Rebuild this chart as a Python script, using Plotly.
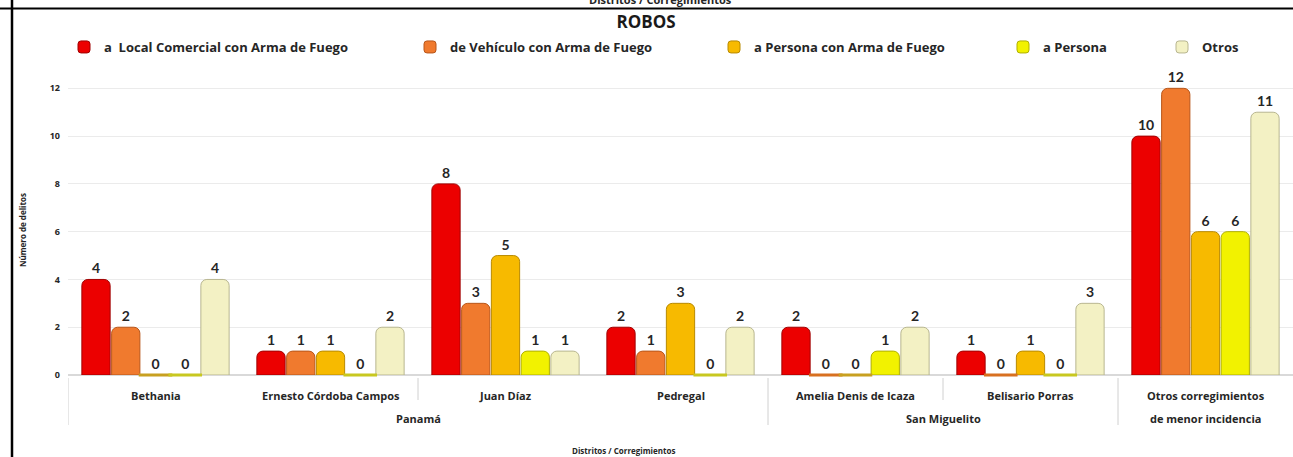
import plotly.graph_objects as go

# ---------------- data ----------------
categories = ["Bethania", "Ernesto Córdoba Campos", "Juan Díaz", "Pedregal",
              "Amelia Denis de Icaza", "Belisario Porras", "Otros corregimientos"]
districts = ["Panamá", "San Miguelito"]
series_names = ["a  Local Comercial con Arma de Fuego", "de Vehículo con Arma de Fuego",
                "a Persona con Arma de Fuego", "a Persona", "Otros"]
local_comercial = [4, 1, 8, 2, 2, 1, 10]
vehiculo = [2, 1, 3, 1, 0, 0, 12]
persona_arma = [0, 1, 5, 3, 0, 1, 6]
persona = [0, 0, 1, 0, 1, 0, 6]
otros = [4, 2, 1, 2, 2, 3, 11]
y_ticks = [0, 2, 4, 6, 8, 10, 12]

series_values = [local_comercial, vehiculo, persona_arma, persona, otros]
colors = ["#EC0000", "#F07A2E", "#F7BA00", "#F2F200", "#F3F1C4"]
edge_colors = ["#A00000", "#B8561A", "#B88A00", "#B0B000", "#B8B690"]
zero_colors = ["#C83000", "#D87020", "#C8A020", "#C8C820", "#C8C880"]

W, H = 1293, 457
ML, MR, MT, MB = 68, 0, 74, 82
PH = H - MT - MB
PW = W - ML - MR
FONT = "Open Sans"
TXT = "#262626"


def py(pixel_y):
    return (H - MB - pixel_y) / PH


def px(pixel_x):
    return (pixel_x - ML) / PW


fig = go.Figure()
legend_ids = ["legend", "legend2", "legend3", "legend4", "legend5"]
for name, vals, c, ec, lid in zip(series_names, series_values, colors, edge_colors, legend_ids):
    fig.add_trace(go.Bar(
        x=categories, y=vals, name=name, legend=lid,
        marker=dict(color=c, line=dict(color=ec, width=1), cornerradius=6),
        text=[str(v) for v in vals], textposition="outside",
        textfont=dict(family="Lato", size=14, color=TXT, weight="bold"),
        cliponaxis=False, offsetgroup=name,
    ))

# flat discs for zero values
for name, vals, zc in zip(series_names, series_values, zero_colors):
    fig.add_trace(go.Scatter(
        x=categories, y=[0 if v == 0 else None for v in vals],
        mode="markers", showlegend=False, hoverinfo="skip",
        orientation="v", offsetgroup=name,
        marker=dict(symbol="line-ew", size=24, line=dict(color=zc, width=3)),
        cliponaxis=False,
    ))

fig.update_layout(
    width=W, height=H,
    margin=dict(l=ML, r=MR, t=MT, b=MB),
    paper_bgcolor="white", plot_bgcolor="white",
    barmode="group", bargap=0.15, bargroupgap=0.05,
    scattermode="group", scattergap=0.15,
    font=dict(family=FONT, color=TXT),
    title=dict(text="<b>ROBOS</b>", x=646 / W, xref="container", xanchor="center",
               y=1 - 22 / H, yref="container", yanchor="middle",
               font=dict(family=FONT, size=17, color="#1a1a1a")),
    xaxis=dict(showticklabels=False, showgrid=False, zeroline=False, showline=False,
               ticks="", range=[-0.5, 6.5]),
    yaxis=dict(range=[0, 12.6], tickvals=y_ticks, showgrid=True, gridcolor="#ebebeb",
               gridwidth=1, zeroline=True, zerolinecolor="#d9d9d9", showline=False,
               ticks="", ticklabelstandoff=7,
               tickfont=dict(family=FONT, size=9, color=TXT, weight="bold")),
)

# legends (one per series to reproduce the spacing)
legend_text_x = [104, 450, 754, 1043, 1202]
for lid, tx in zip(legend_ids, legend_text_x):
    fig.update_layout({lid: dict(
        x=(tx - 40) / W, xref="container", xanchor="left",
        y=1 - 47 / H, yref="container", yanchor="middle",
        orientation="h", itemwidth=30, bgcolor="rgba(0,0,0,0)",
        font=dict(family=FONT, size=13, color=TXT, weight="bold"),
        itemclick=False, itemdoubleclick=False,
    )})

annotations = []
cat_labels = categories[:-1] + ["Otros corregimientos"]
for i, lab in enumerate(cat_labels):
    annotations.append(dict(x=i, y=py(395), xref="x", yref="paper", text=f"<b>{lab}</b>",
                            showarrow=False, yanchor="middle",
                            font=dict(family=FONT, size=11, color=TXT)))
annotations.append(dict(x=6, y=py(418), xref="x", yref="paper", text="<b>de menor incidencia</b>",
                        showarrow=False, yanchor="middle",
                        font=dict(family=FONT, size=11, color=TXT)))
for lab, xc in zip(districts, [1.5, 4.5]):
    annotations.append(dict(x=xc, y=py(418), xref="x", yref="paper", text=f"<b>{lab}</b>",
                            showarrow=False, yanchor="middle",
                            font=dict(family=FONT, size=11, color=TXT)))
# axis titles
annotations.append(dict(x=px(22), y=py(230), xref="paper", yref="paper", text="<b>Número de delitos</b>",
                        textangle=-90, showarrow=False, xanchor="center", yanchor="middle",
                        font=dict(family=FONT, size=8, color=TXT)))
annotations.append(dict(x=px(623), y=py(451), xref="paper", yref="paper", text="<b>Distritos / Corregimientos</b>",
                        showarrow=False, xanchor="center", yanchor="middle",
                        font=dict(family=FONT, size=8, color=TXT)))
annotations.append(dict(x=px(660), y=py(-0.5), xref="paper", yref="paper", text="<b>Distritos / Corregimientos</b>",
                        showarrow=False, xanchor="center", yanchor="middle",
                        font=dict(family=FONT, size=11, color=TXT)))
fig.update_layout(annotations=annotations)

shapes = []
# category separators
for xi, y_bottom in [(-0.5, 425), (1.5, 400), (3.5, 425), (4.5, 400), (5.5, 425)]:
    shapes.append(dict(type="line", xref="x", yref="paper", x0=xi, x1=xi,
                       y0=py(378), y1=py(y_bottom), line=dict(color="#d0d0d0", width=1)))
# outer frame (cropped border)
shapes.append(dict(type="line", xref="paper", yref="paper",
                   x0=px(0), x1=px(W), y0=py(8.5), y1=py(8.5), line=dict(color="black", width=2)))
shapes.append(dict(type="line", xref="paper", yref="paper",
                   x0=px(12), x1=px(12), y0=py(0), y1=py(H), line=dict(color="black", width=2.5)))
fig.update_layout(shapes=shapes)

fig.write_html("out.html", config={"displayModeBar": False},
               post_script="document.body.style.margin='0';document.body.style.padding='0';")
